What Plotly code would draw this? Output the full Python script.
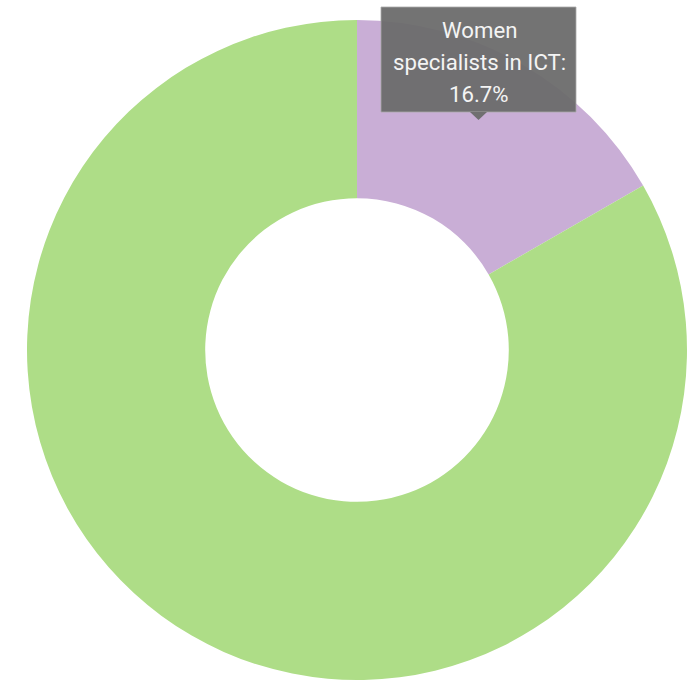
import plotly.graph_objects as go

labels = ["Women specialists in ICT", "Others"]
values = [16.7, 83.3]
colors = ["#c9aed6", "#aedd87"]

W, H = 698, 681

def px(x):
    return x / W

def py(y):
    return 1 - y / H

fig = go.Figure(go.Pie(
    labels=labels,
    values=values,
    hole=0.46,
    sort=False,
    direction="clockwise",
    rotation=0,
    marker=dict(colors=colors, line=dict(width=0)),
    textinfo="none",
    hoverinfo="skip",
    showlegend=False,
    domain=dict(x=[px(27), px(687)], y=[py(680), py(20)]),
))

tip_bg = "rgba(108,108,108,0.95)"

# tooltip box
fig.add_shape(
    type="rect", xref="paper", yref="paper",
    x0=px(381), x1=px(576), y0=py(112), y1=py(7),
    fillcolor=tip_bg, line=dict(width=1, color="rgba(170,170,170,0.8)"),
)
# tooltip arrow
fig.add_shape(
    type="path", xref="paper", yref="paper",
    path=f"M {px(470)} {py(112)} L {px(487)} {py(112)} L {px(478.5)} {py(120)} Z",
    fillcolor=tip_bg, line=dict(width=0),
)

name_words = labels[0].split(" ")
tip_lines = [name_words[0], " ".join(name_words[1:]) + ":", f"{values[0]}%"]
line_y = [30, 62, 94]
for txt, yy in zip(tip_lines, line_y):
    fig.add_annotation(
        x=px(479), y=py(yy), xref="paper", yref="paper",
        xanchor="center", yanchor="middle",
        text=txt, showarrow=False,
        font=dict(family="Roboto", size=22.2, color="#f4f4f4"),
    )

fig.update_layout(
    width=W, height=H,
    margin=dict(l=0, r=0, t=0, b=0),
    paper_bgcolor="white",
    plot_bgcolor="white",
)

fig.write_html("out.html")
